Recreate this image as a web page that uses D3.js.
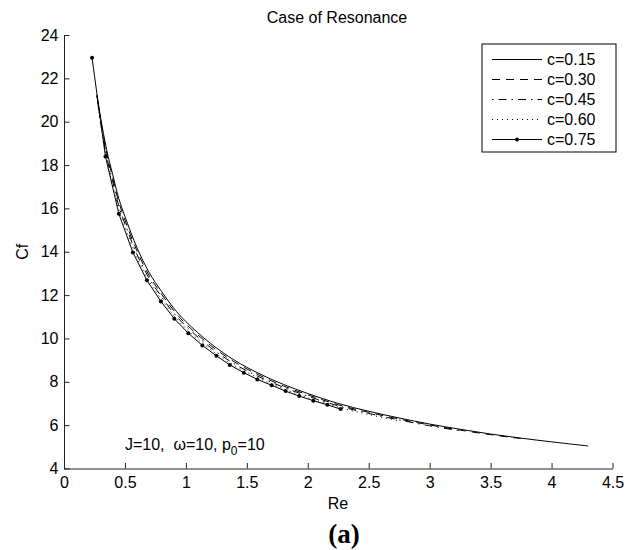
<!DOCTYPE html>
<html>
<head>
<meta charset="utf-8">
<script src="https://cdn.jsdelivr.net/npm/d3@7"></script>
<style>
  body { margin: 0; background: #fff; }
  svg { display: block; }
  text { font-family: "Liberation Sans", Arial, Helvetica, sans-serif; fill: #000; }
</style>
</head>
<body>
<svg id="chart" width="638" height="550"></svg>
<script>
// Reynolds number grid shared by the smooth curves
const reGrid = [0.27, 0.3, 0.35, 0.4, 0.45, 0.5, 0.6, 0.7, 0.8, 0.9, 1.0, 1.2, 1.4, 1.6, 1.8,
                2.0, 2.25, 2.5, 2.75, 3.0, 3.25, 3.5, 3.75, 4.0, 4.3];

// Skin friction Cf for each c (each list follows reGrid from its start)
const cf015 = [21.25, 20.2, 18.7, 17.55, 16.45, 15.63, 14.17, 13.03, 12.17, 11.4, 10.78, 9.78, 8.99,
               8.38, 7.88, 7.46, 7.0, 6.64, 6.33, 6.05, 5.81, 5.59, 5.40, 5.23, 5.04];
const cf030 = [21.21, 20.1, 18.55, 17.39, 16.28, 15.46, 14.02, 12.89, 12.05, 11.29, 10.67, 9.69, 8.91,
               8.31, 7.81, 7.40, 6.94, 6.59, 6.28, 6.01, 5.77, 5.56, 5.38];
const cf045 = [21.18, 20.0, 18.4, 17.23, 16.1, 15.29, 13.86, 12.76, 11.92, 11.17, 10.57, 9.59, 8.82,
               8.23, 7.75, 7.34, 6.89, 6.54, 6.24, 5.97, 5.74];
const cf060 = [21.14, 19.9, 18.25, 17.06, 15.93, 15.12, 13.71, 12.62, 11.8, 11.06, 10.46, 9.5, 8.74,
               8.16, 7.68, 7.27, 6.83, 6.49, 6.2];

// c = 0.75 is plotted point by point with markers
const re075 = [0.23, 0.34, 0.45, 0.565, 0.68, 0.795, 0.905, 1.02, 1.135, 1.25, 1.36, 1.475, 1.586,
               1.704, 1.818, 1.93, 2.045, 2.16, 2.27];
const cf075 = [22.95, 18.4, 15.75, 13.97, 12.68, 11.71, 10.91, 10.24, 9.68, 9.2, 8.78, 8.42, 8.11,
               7.84, 7.57, 7.34, 7.13, 6.94, 6.74];

const seriesLabels = ["c=0.15", "c=0.30", "c=0.45", "c=0.60", "c=0.75"];
const xTicks = [0, 0.5, 1, 1.5, 2, 2.5, 3, 3.5, 4, 4.5];
const yTicks = [4, 6, 8, 10, 12, 14, 16, 18, 20, 22, 24];

const svg = d3.select("#chart");
const x = d3.scaleLinear().domain([0, 4.5]).range([64, 612.5]);
const y = d3.scaleLinear().domain([4, 24]).range([468.5, 35]);

const styles = [
  { dash: null, marker: false },
  { dash: "8,6", marker: false },
  { dash: "1.5,5,8,5", marker: false },
  { dash: "1,4", marker: false },
  { dash: null, marker: true }
];

const toPoints = (res, cfs) => cfs.map((c, i) => [res[i], c]);
const series = [
  toPoints(reGrid, cf015),
  toPoints(reGrid, cf030),
  toPoints(reGrid, cf045),
  toPoints(reGrid, cf060),
  toPoints(re075, cf075)
];

// Axes: only left and bottom, ticks pointing inward
const fmt = d => String(d);
const xAxis = svg.append("g")
  .attr("transform", `translate(0,${y(4)})`)
  .call(d3.axisBottom(x).tickValues(xTicks).tickFormat(fmt)
        .tickSizeInner(-5.5).tickSizeOuter(0).tickPadding(8.5));
const yAxis = svg.append("g")
  .attr("transform", `translate(${x(0)},0)`)
  .call(d3.axisLeft(y).tickValues(yTicks).tickFormat(fmt)
        .tickSizeInner(-5.5).tickSizeOuter(0).tickPadding(5.5));
[xAxis, yAxis].forEach(g => {
  g.selectAll("path,line").attr("stroke", "#222").attr("stroke-width", 1);
  g.selectAll("text").attr("font-size", 16).attr("fill", "#000")
    .style("font-family", '"Liberation Sans", Arial, sans-serif');
});

// Curves
const smooth = d3.line().x(d => x(d[0])).y(d => y(d[1])).curve(d3.curveCatmullRom);
const straight = d3.line().x(d => x(d[0])).y(d => y(d[1]));
series.forEach((pts, i) => {
  const st = styles[i];
  svg.append("path")
    .attr("d", st.marker ? straight(pts) : smooth(pts))
    .attr("fill", "none")
    .attr("stroke", "#000")
    .attr("stroke-width", 1)
    .attr("stroke-dasharray", st.dash);
  if (st.marker) {
    svg.append("g").selectAll("circle").data(pts).join("circle")
      .attr("cx", d => x(d[0])).attr("cy", d => y(d[1])).attr("r", 2)
      .attr("fill", "#000");
  }
});

// Title and axis labels
svg.append("text").attr("x", 337).attr("y", 22.5).attr("text-anchor", "middle")
  .attr("font-size", 16).text("Case of Resonance");
svg.append("text").attr("x", 338).attr("y", 508.5).attr("text-anchor", "middle")
  .attr("font-size", 16).text("Re");
svg.append("text").attr("transform", `translate(28,${(y(4) + y(24)) / 2}) rotate(-90)`)
  .attr("text-anchor", "middle").attr("font-size", 16).text("Cf");
svg.append("text").attr("x", 344).attr("y", 543).attr("text-anchor", "middle")
  .attr("font-size", 27).attr("font-weight", "bold")
  .style("font-family", '"Liberation Serif", "Times New Roman", serif')
  .text("(a)");

// Parameter annotation
const note = svg.append("text").attr("x", x(0.5)).attr("y", 450)
  .attr("font-size", 16).style("white-space", "pre");
note.append("tspan").text("J=10,  \u03c9=10, p");
note.append("tspan").attr("dy", 5).attr("font-size", 12).text("0");
note.append("tspan").attr("dy", -5).text("=10");

// Legend
const lg = svg.append("g");
lg.append("rect").attr("x", 482).attr("y", 44).attr("width", 134).attr("height", 108)
  .attr("fill", "#fff").attr("stroke", "#000").attr("stroke-width", 1);
seriesLabels.forEach((lab, i) => {
  const ly = 59.5 + i * 20;
  lg.append("line").attr("x1", 492).attr("x2", 542).attr("y1", ly).attr("y2", ly)
    .attr("stroke", "#000").attr("stroke-width", 1)
    .attr("stroke-dasharray", styles[i].dash);
  if (styles[i].marker) {
    lg.append("circle").attr("cx", 517).attr("cy", ly).attr("r", 2).attr("fill", "#000");
  }
  lg.append("text").attr("x", 547).attr("y", ly).attr("dy", "0.35em")
    .attr("font-size", 16).text(lab);
});
</script>
</body>
</html>
